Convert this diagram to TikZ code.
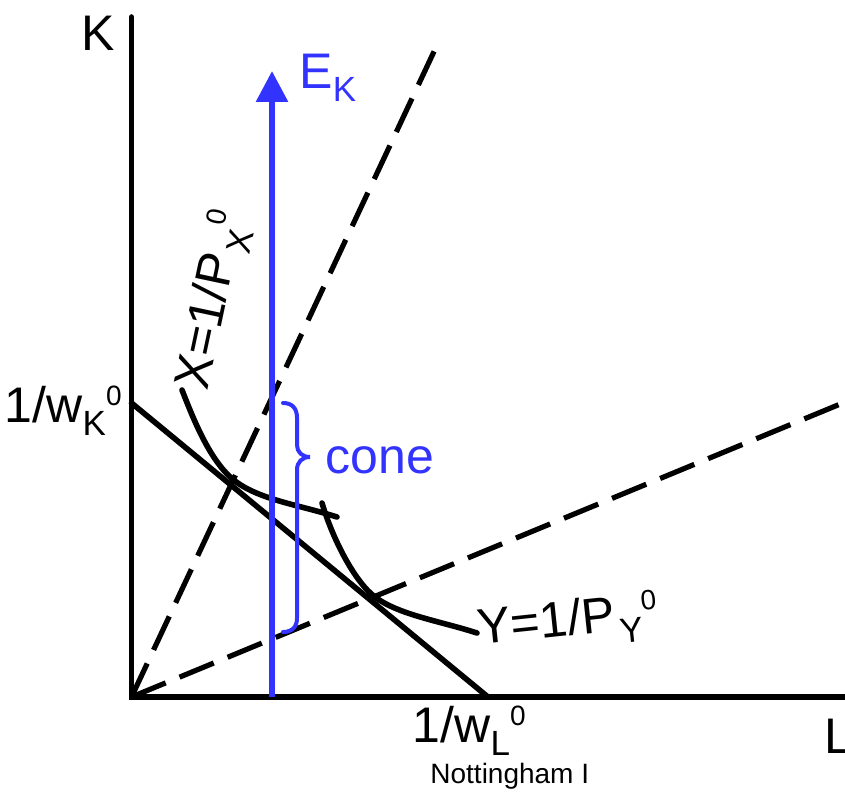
\documentclass[tikz,border=0pt]{standalone}
\usepackage{fontspec}
\setmainfont{Liberation Sans}
\usepackage{tikz}
\usetikzlibrary{arrows.meta, positioning, calc}
\definecolor{conecol}{RGB}{51,51,255}
\newcommand{\ssidx}[2]{\raisebox{-6.5pt}{\fontsize{17.5}{20}\selectfont #1}\raisebox{8.5pt}{\fontsize{14}{16}\selectfont #2}}
\tikzset{
  axisline/.style={line width=2.8pt, line cap=round},
  rayline/.style={line width=2.6pt, dash pattern=on 18.5pt off 7.5pt},
  curveline/.style={line width=2.8pt, line cap=round},
  bigtext/.style={inner sep=0pt, anchor=base west, font=\fontsize{25}{30}\selectfont},
}

\begin{document}
\begin{tikzpicture}[x=0.5pt, y=-0.5pt,
  emph/.style={conecol, line width=3pt},
  brace/.style={conecol, line width=2pt, line cap=round}]

\useasboundingbox (0,0) rectangle (845,792);

% axes
\coordinate (O) at (131.5,697);
\coordinate (Ktop) at (131.5,17);
\coordinate (Lend) at (850,697);
\draw[axisline] (Ktop) -- (O) -- (Lend);
\node[bigtext] (Klab) at (81.5,51) {K};
\node[bigtext] (Llab) at (824,753) {L};

% rays from the origin
\coordinate (rayX) at (438,43);
\coordinate (rayY) at (850,400);
\draw[rayline] (O) -- (rayX);
\draw[rayline] (O) -- (rayY);

% isocost line
\coordinate (wK) at (131.5,403);
\coordinate (wL) at (488,697);
\draw[curveline] (wK) -- (wL);
\node[bigtext] (wKlab) at (4.5,422) {1/w\ssidx{K}{0}};
\node[bigtext] (wLlab) at (412.5,742) {1/w\ssidx{L}{0}};

% isoquants
\draw[curveline] (182,390) .. controls (193,418) and (210,462) .. (235,481)
  .. controls (260,500) and (300,505) .. (337,517);
\draw[curveline] (322,503) .. controls (333,540) and (355,582) .. (375,597)
  .. controls (399,615) and (440,621) .. (477,633);
\node[bigtext, rotate=78] (Xlab) at (207,392) {X=1/P\kern2pt\ssidx{X}{0}};
\node[bigtext, rotate=6] (Ylab) at (479,645) {Y=1/P\kern2pt\ssidx{Y}{0}};

% endowment ray
\coordinate (Ebot) at (272,697);
\coordinate (Etop) at (272,71);
\draw[emph, -{Triangle[length=15.5pt, width=15.5pt]}] (Ebot) -- (Etop);
\node[bigtext, conecol] (Elab) at (299,89) {E\raisebox{-6.5pt}{\fontsize{17.5}{20}\selectfont K}};

% cone brace
\draw[brace] (283,403) .. controls (292,403) and (297,408) .. (297,418) -- (297,445)
  .. controls (297,452) and (302,457) .. (310,457)
  .. controls (302,457) and (297,462) .. (297,470) -- (297,618)
  .. controls (297,627) and (292,632) .. (283,632);
\node[bigtext, conecol] (conelab) at (325,473) {cone};

\node[inner sep=0pt, anchor=base west, font=\fontsize{14}{16}\selectfont] (credit) at (430,783) {Nottingham I};
\end{tikzpicture}
\end{document}
